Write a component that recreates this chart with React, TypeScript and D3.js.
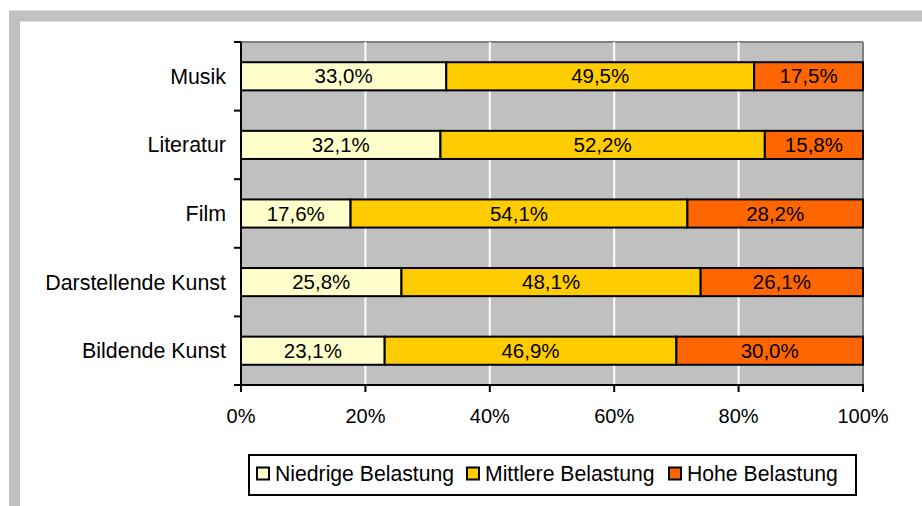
import React from "react";
import * as d3 from "d3";

const categories = ["Musik", "Literatur", "Film", "Darstellende Kunst", "Bildende Kunst"];
const seriesNames = ["Niedrige Belastung", "Mittlere Belastung", "Hohe Belastung"];
const niedrig = [33.0, 32.1, 17.6, 25.8, 23.1];
const mittel = [49.5, 52.2, 54.1, 48.1, 46.9];
const hoch = [17.5, 15.8, 28.2, 26.1, 30.0];
const xTicks = [0, 20, 40, 60, 80, 100];
const colors = ["#FFFFCC", "#FFCC00", "#FF6600"];

const W = 922;
const H = 506;
const PL = 241, PR = 863, PT = 42, PB = 385;
const FONT = "'Liberation Sans', Arial, sans-serif";

export default function App() {
  const x = d3.scaleLinear().domain([0, 100]).range([PL, PR]);
  const y = d3.scaleBand<string>().domain(categories).range([PT, PB]).paddingInner(0.59).paddingOuter(0.295);
  const yBand = d3.scaleBand<string>().domain(categories).range([PT, PB]);
  const rows = categories.map((c, i) => {
    const vals = [niedrig[i], mittel[i], hoch[i]];
    const total = d3.sum(vals);
    let acc = 0;
    return vals.map((v, k) => {
      const start = (acc / total) * 100;
      acc += v;
      const end = (acc / total) * 100;
      return { cat: c, k, v, start, end };
    });
  });
  const fmt = (v: number) => v.toFixed(1).replace(".", ",") + "%";
  const boundaries = d3.range(categories.length + 1).map((i) => PT + (i * (PB - PT)) / categories.length);
  const legendX = [257, 467, 669];

  return (
    <svg width={W} height={H} style={{ position: "absolute", left: 0, top: 0, fontFamily: FONT }}>
      <rect x={0} y={0} width={W} height={H} fill="#ffffff" />
      <rect x={14.5} y={16} width={W + 50} height={H + 50} fill="none" stroke="#C0C0C0" strokeWidth={11} />
      <rect x={PL} y={PT} width={PR - PL} height={PB - PT} fill="#C0C0C0" />
      <line x1={PL} x2={PR} y1={PT} y2={PT} stroke="#808080" strokeWidth={2} />
      <line x1={PR} x2={PR} y1={PT} y2={PB} stroke="#808080" strokeWidth={2} />
      {xTicks.filter((t) => t > 0 && t < 100).map((t) => (
        <line key={t} x1={x(t)} x2={x(t)} y1={PT} y2={PB} stroke="#ffffff" strokeWidth={2} />
      ))}
      {rows.map((segs) =>
        segs.map((s) => (
          <g key={s.cat + s.k}>
            <rect
              x={x(s.start)}
              y={y(s.cat)!}
              width={x(s.end) - x(s.start)}
              height={y.bandwidth()}
              fill={colors[s.k]}
              stroke="#000"
              strokeWidth={2}
            />
            <text
              x={(x(s.start) + x(s.end)) / 2}
              y={y(s.cat)! + y.bandwidth() / 2}
              dy="0.35em"
              textAnchor="middle"
              fontSize={20.5}
              fill="#000"
            >
              {fmt(s.v)}
            </text>
          </g>
        ))
      )}
      <line x1={PL} x2={PL} y1={PT} y2={PB + 1} stroke="#000" strokeWidth={2} />
      <line x1={PL - 1} x2={PR + 1} y1={PB} y2={PB} stroke="#000" strokeWidth={2} />
      {boundaries.map((b, i) => (
        <line key={i} x1={PL - 7} x2={PL} y1={b} y2={b} stroke="#000" strokeWidth={2} />
      ))}
      {xTicks.map((t) => (
        <g key={t}>
          <line x1={x(t)} x2={x(t)} y1={PB} y2={PB + 7} stroke="#000" strokeWidth={2} />
          <text x={x(t)} y={PB + 31} dy="0.35em" textAnchor="middle" fontSize={20} fill="#000">
            {t}%
          </text>
        </g>
      ))}
      {categories.map((c) => (
        <text key={c} x={226} y={yBand(c)! + yBand.bandwidth() / 2} dy="0.35em" textAnchor="end" fontSize={21.4} fill="#000">
          {c}
        </text>
      ))}
      <rect x={249} y={455} width={607} height={40} fill="#fff" stroke="#000" strokeWidth={2} />
      {seriesNames.map((n, i) => (
        <g key={n}>
          <rect x={legendX[i]} y={467.5} width={12} height={12} fill={colors[i]} stroke="#000" strokeWidth={2} />
          <text x={legendX[i] + 18} y={474} dy="0.35em" fontSize={21.2} fill="#000">
            {n}
          </text>
        </g>
      ))}
    </svg>
  );
}
